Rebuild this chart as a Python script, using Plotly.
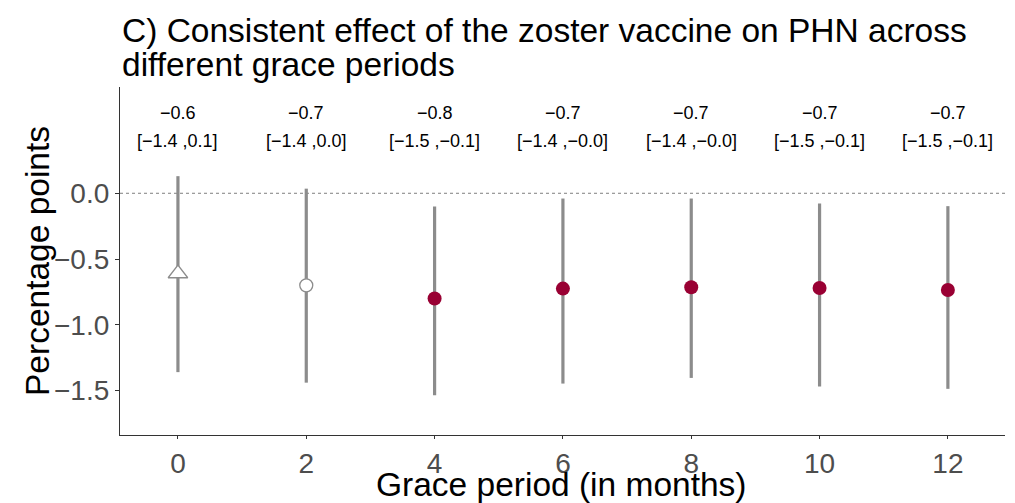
import plotly.graph_objects as go

grace = [0, 2, 4, 6, 8, 10, 12]
estimate = [-0.61, -0.70, -0.80, -0.725, -0.715, -0.72, -0.735]
ci_low = [-1.36, -1.44, -1.535, -1.447, -1.404, -1.47, -1.487]
ci_high = [0.13, 0.035, -0.10, -0.04, -0.04, -0.078, -0.098]
est_labels = ["\u22120.6", "\u22120.7", "\u22120.8", "\u22120.7", "\u22120.7", "\u22120.7", "\u22120.7"]
ci_labels = ["[\u22121.4 ,0.1]", "[\u22121.4 ,0.0]", "[\u22121.5 ,\u22120.1]", "[\u22121.4 ,\u22120.0]",
             "[\u22121.4 ,\u22120.0]", "[\u22121.5 ,\u22120.1]", "[\u22121.5 ,\u22120.1]"]
y_ticks = [0, -0.5, -1.0, -1.5]
y_ticktext = ["0.0", "\u22120.5", "\u22121.0", "\u22121.5"]
title_lines = ["C) Consistent effect of the zoster vaccine on PHN across", "different grace periods"]
x_title = "Grace period (in months)"
y_title = "Percentage points"
# marker style groups: index lists
group_triangle = [0]
group_open = [1]
group_filled = [2, 3, 4, 5, 6]

GREY = "#8C8C8C"
RED = "#990033"
FONT = "Liberation Sans, Arial, sans-serif"

fig = go.Figure()

fig.add_hline(y=0, line=dict(color="#7F7F7F", width=1, dash="dot"), layer="below")


def add_group(idx, symbol, size, fill, line_color, line_width):
    xs = [grace[i] for i in idx]
    ys = [estimate[i] for i in idx]
    up = [ci_high[i] - estimate[i] for i in idx]
    dn = [estimate[i] - ci_low[i] for i in idx]
    fig.add_trace(go.Scatter(
        x=xs, y=ys, mode="markers",
        marker=dict(symbol=symbol, size=size, color=fill,
                    line=dict(color=line_color, width=line_width)),
        error_y=dict(type="data", array=up, arrayminus=dn, symmetric=False,
                     color=GREY, thickness=3.2, width=0),
        showlegend=False, hoverinfo="x+y",
    ))


add_group(group_triangle, "triangle-up", 17, "white", GREY, 1.3)
add_group(group_open, "circle", 13, "white", GREY, 1.3)
add_group(group_filled, "circle", 14, RED, RED, 0)

for i, g in enumerate(grace):
    fig.add_annotation(x=g, y=0.61, xref="x", yref="y", text=est_labels[i], showarrow=False,
                       font=dict(family=FONT, size=18, color="black"))
    fig.add_annotation(x=g, y=0.40, xref="x", yref="y", text=ci_labels[i], showarrow=False,
                       font=dict(family=FONT, size=18, color="black"))

# page pixels: plot area spans y 87..435 -> paper 1..0 (page has an 8px body offset)
PH = 348.0
def py(pix):
    return (435.0 - pix) / PH

fig.add_annotation(text=title_lines[0], x=0, y=py(31), xref="paper", yref="paper",
                   xanchor="left", yanchor="middle", showarrow=False,
                   font=dict(family=FONT, size=33.5, color="black"))
fig.add_annotation(text=title_lines[1], x=0, y=py(64), xref="paper", yref="paper",
                   xanchor="left", yanchor="middle", showarrow=False,
                   font=dict(family=FONT, size=33.5, color="black"))
fig.add_annotation(text=x_title, x=0.499, y=py(484), xref="paper", yref="paper",
                   xanchor="center", yanchor="middle", showarrow=False,
                   font=dict(family=FONT, size=33.5, color="black"))
fig.add_annotation(text=y_title, x=(37 - 120) / 885.0, y=py(261), xref="paper", yref="paper",
                   xanchor="center", yanchor="middle", showarrow=False, textangle=-90,
                   font=dict(family=FONT, size=33.5, color="black"))

fig.update_layout(
    width=1007, height=495,
    margin=dict(l=112, r=10, t=79, b=68, autoexpand=False),
    paper_bgcolor="white", plot_bgcolor="white",
    font=dict(family=FONT),
)
fig.update_xaxes(
    range=[-0.903, 12.89], tickvals=grace, ticktext=[str(g) for g in grace],
    showgrid=False, zeroline=False, showline=True, linecolor="#333333", linewidth=1.2,
    ticks="outside", ticklen=3, tickcolor="#333333", automargin=False,
    tickfont=dict(family=FONT, size=28, color="#4D4D4D"),
)
fig.update_yaxes(
    range=[-1.838, 0.808], tickvals=y_ticks, ticktext=y_ticktext,
    showgrid=False, zeroline=False, showline=True, linecolor="#333333", linewidth=1.2,
    ticks="outside", ticklen=4, tickcolor="#333333", automargin=False,
    tickfont=dict(family=FONT, size=28, color="#4D4D4D"),
)

fig.write_html("out.html")
